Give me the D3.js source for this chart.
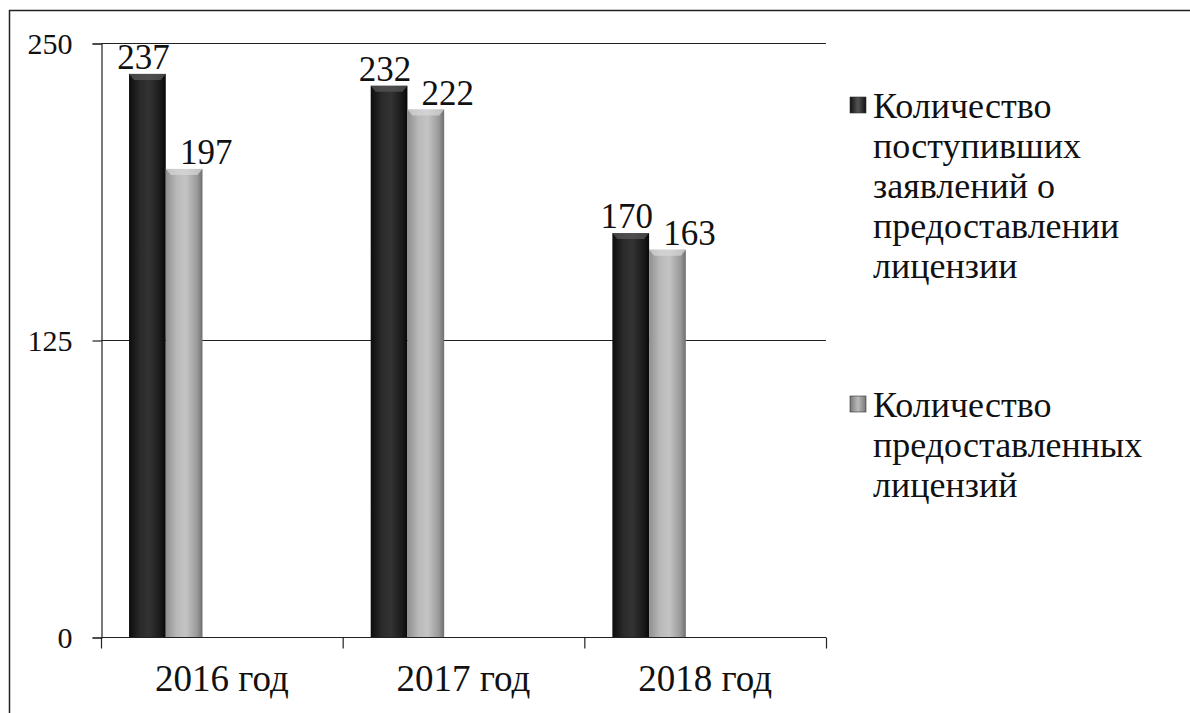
<!DOCTYPE html>
<html>
<head>
<meta charset="utf-8">
<script src="https://cdn.jsdelivr.net/npm/d3@7"></script>
</head>
<body style="margin:0">
<svg id="c" width="1190" height="713"></svg>
<script>
// chart data
var years = ["2016 год", "2017 год", "2018 год"];
var seriesNames = ["Количество поступивших заявлений о предоставлении лицензии",
                   "Количество предоставленных лицензий"];
var applied = [237, 232, 170];
var granted = [197, 222, 163];
var yTicks = [0, 125, 250];

// legend lines (wrapped as in the picture)
var legendLines = [
    ["Количество", "поступивших", "заявлений о", "предоставлении", "лицензии"],
    ["Количество", "предоставленных", "лицензий"]
];

var fontName = "Liberation Serif";
var svg = d3.select("#c").style("font-family", fontName);
var plotLeft = 101, plotRight = 826, plotTop = 43, plotBottom = 637;

// frame (top and left border of the picture)
svg.append("line").attr("x1", 9).attr("x2", 1190).attr("y1", 10.5).attr("y2", 10.5)
    .attr("stroke", "#222").attr("stroke-width", 1.5);
svg.append("line").attr("x1", 9.5).attr("x2", 9.5).attr("y1", 10).attr("y2", 713)
    .attr("stroke", "#222").attr("stroke-width", 1.5);

// gradients for the 3d-ish bars
var defs = svg.append("defs");
function addGrad(id, stops) {
    var g = defs.append("linearGradient").attr("id", id)
        .attr("x1", "0%").attr("x2", "100%").attr("y1", "0%").attr("y2", "0%");
    stops.forEach(function (s) {
        g.append("stop").attr("offset", s[0]).attr("stop-color", s[1]);
    });
}
addGrad("gDark", [["0%", "#0c0c0c"], ["30%", "#2a2a2a"], ["55%", "#333"], ["85%", "#1a1a1a"], ["100%", "#080808"]]);
addGrad("gLight", [["0%", "#8f8f8f"], ["30%", "#b9b9b9"], ["55%", "#c4c4c4"], ["85%", "#9a9a9a"], ["100%", "#6f6f6f"]]);
addGrad("gDarkLeg", [["0%", "#111"], ["50%", "#555"], ["100%", "#111"]]);
addGrad("gLightLeg", [["0%", "#777"], ["50%", "#bbb"], ["100%", "#777"]]);

var x0 = d3.scaleBand().domain(years).range([plotLeft, plotRight]).paddingInner(0).paddingOuter(0);
// bars sit in the left part of each category band
var x1 = d3.scaleBand().domain([0, 1])
    .range([x0.bandwidth() * 0.116, x0.bandwidth() * 0.42]).padding(0);
var y = d3.scaleLinear().domain([0, 250]).range([plotBottom, plotTop]);

// gridlines
svg.append("g").selectAll("line").data(yTicks.filter(function (d) { return d > 0; }))
    .enter().append("line")
    .attr("x1", plotLeft).attr("x2", plotRight)
    .attr("y1", function (d) { return y(d) + 0.5; })
    .attr("y2", function (d) { return y(d) + 0.5; })
    .attr("stroke", "#222").attr("stroke-width", 1.2);

// y axis
var yAxis = d3.axisLeft(y).tickValues(yTicks).tickSize(9).tickPadding(20);
var gy = svg.append("g").attr("transform", "translate(" + (plotLeft + 0.5) + ",0.5)").call(yAxis);
gy.attr("font-family", null).attr("font-size", null);
gy.selectAll("path, line").attr("stroke", "#222").attr("stroke-width", 1.2);
gy.selectAll("text").attr("fill", "#111")
    .style("font-family", fontName).style("font-size", "30px");

// x axis, ticks at band boundaries
var xEdges = years.map(function (d) { return x0(d); }).concat([plotRight]);
var gx = svg.append("g").attr("transform", "translate(0," + (plotBottom + 0.5) + ")");
gx.append("line").attr("x1", plotLeft).attr("x2", plotRight)
    .attr("stroke", "#222").attr("stroke-width", 1.2);
gx.selectAll(".tk").data(xEdges).enter().append("line")
    .attr("x1", function (d) { return d + 0.5; }).attr("x2", function (d) { return d + 0.5; })
    .attr("y1", 0).attr("y2", 11)
    .attr("stroke", "#222").attr("stroke-width", 1.2);
gx.selectAll(".lbl").data(years).enter().append("text")
    .attr("x", function (d) { return x0(d) + x0.bandwidth() / 2; })
    .attr("y", 53)
    .attr("text-anchor", "middle").attr("fill", "#111")
    .style("font-family", fontName).style("font-size", "37px")
    .text(function (d) { return d; });

// bars
var rows = years.map(function (yr, i) {
    return { year: yr, vals: [applied[i], granted[i]] };
});
var fills = ["url(#gDark)", "url(#gLight)"];
var tops = ["#5a5a5a", "#d8d8d8"];

var groups = svg.append("g").selectAll("g").data(rows).enter().append("g")
    .attr("transform", function (d) { return "translate(" + x0(d.year) + ",0)"; });

groups.selectAll("rect.bar").data(function (d) { return d.vals; }).enter().append("rect")
    .attr("class", "bar")
    .attr("x", function (d, i) { return x1(i); })
    .attr("y", function (d) { return y(d); })
    .attr("width", x1.bandwidth())
    .attr("height", function (d) { return plotBottom - y(d); })
    .attr("fill", function (d, i) { return fills[i]; });

// small bevel on the top of each bar
groups.selectAll("path.cap").data(function (d) { return d.vals; }).enter().append("path")
    .attr("class", "cap")
    .attr("d", function (d, i) {
        var xl = x1(i), w = x1.bandwidth(), t = y(d);
        return "M" + xl + "," + t + "L" + (xl + w) + "," + t +
            "L" + (xl + w - 5) + "," + (t + 6) + "L" + (xl + 5) + "," + (t + 6) + "Z";
    })
    .attr("fill", function (d, i) { return tops[i]; })
    .attr("opacity", 0.7);

// value labels
groups.selectAll("text.val").data(function (d) { return d.vals; }).enter().append("text")
    .attr("class", "val")
    .attr("x", function (d, i) { return x1(i) + x1.bandwidth() / 2 + (i === 1 ? 22 : -4); })
    .attr("y", function (d) { return y(d) - 5; })
    .attr("text-anchor", "middle").attr("fill", "#111")
    .style("font-family", fontName).style("font-size", "35px")
    .text(function (d) { return d; });

// legend
var legTop = [118, 417];
var legFill = ["url(#gDarkLeg)", "url(#gLightLeg)"];
seriesNames.forEach(function (name, k) {
    var lg = svg.append("g").attr("class", "legend");
    lg.append("rect").attr("x", 850).attr("y", legTop[k] - 21)
        .attr("width", 16).attr("height", 16)
        .attr("fill", legFill[k]).attr("stroke", "#333").attr("stroke-width", 0.6);
    var t = lg.append("text").attr("x", 873).attr("y", legTop[k]).attr("fill", "#111")
        .style("font-family", fontName).style("font-size", "36px");
    legendLines[k].forEach(function (ln, j) {
        t.append("tspan").attr("x", 873).attr("dy", j === 0 ? 0 : 40).text(ln);
    });
});
</script>
</body>
</html>
